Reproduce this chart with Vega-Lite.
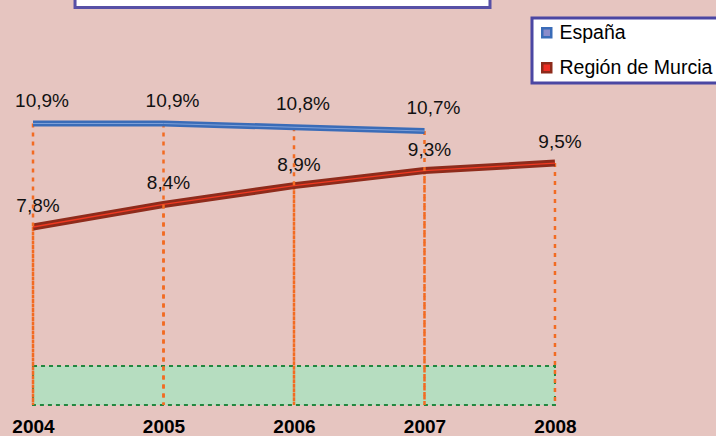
{
  "$schema": "https://vega.github.io/schema/vega-lite/v6.json",
  "width": 716,
  "height": 405,
  "autosize": {"type": "none"},
  "padding": {"left": 0, "top": 0, "right": 0, "bottom": 31},
  "background": "#E6C5C0",
  "config": {
    "view": {"stroke": null},
    "font": "Liberation Sans"
  },
  "data": {
    "values": [
      {"year": 2004, "serie": "España", "value": 10.9, "label": "10,9%"},
      {"year": 2005, "serie": "España", "value": 10.9, "label": "10,9%"},
      {"year": 2006, "serie": "España", "value": 10.8, "label": "10,8%"},
      {"year": 2007, "serie": "España", "value": 10.7, "label": "10,7%"},
      {"year": 2004, "serie": "Región de Murcia", "value": 7.8, "label": "7,8%"},
      {"year": 2005, "serie": "Región de Murcia", "value": 8.4, "label": "8,4%"},
      {"year": 2006, "serie": "Región de Murcia", "value": 8.9, "label": "8,9%"},
      {"year": 2007, "serie": "Región de Murcia", "value": 9.3, "label": "9,3%"},
      {"year": 2008, "serie": "Región de Murcia", "value": 9.5, "label": "9,5%"}
    ]
  },
  "encoding": {
    "x": {
      "field": "year",
      "type": "quantitative",
      "scale": {"domain": [2003.747, 2009.234], "nice": false, "zero": false},
      "axis": {
        "values": [2004, 2005, 2006, 2007, 2008],
        "format": "d",
        "title": null,
        "domain": false,
        "ticks": false,
        "grid": false,
        "labelFont": "Liberation Sans",
        "labelFontSize": 19,
        "labelFontWeight": "bold",
        "labelColor": "#000000",
        "labelPadding": 12
      }
    }
  },
  "layer": [
    {
      "transform": [{"filter": "datum.serie == 'Región de Murcia'"}],
      "encoding": {
        "y": {
          "field": "value",
          "type": "quantitative",
          "scale": {"domain": [3.066, 13.837], "nice": false, "zero": false},
          "axis": null
        }
      },
      "layer": [
        {
          "transform": [{"filter": "datum.year == 2004"}],
          "mark": {"type": "rect", "fill": "#FFFFFF", "stroke": "#5750A6", "strokeWidth": 3},
          "encoding": {
            "x": {"datum": 2004.322},
            "x2": {"datum": 2007.502},
            "y": {"datum": 13.638},
            "y2": {"datum": 15}
          }
        },
        {
          "transform": [{"filter": "datum.year == 2004"}],
          "mark": {"type": "rect", "fill": "#B6DDC0", "stroke": "#22873F", "strokeWidth": 2, "strokeDash": [4, 4]},
          "encoding": {
            "x": {"datum": 2004},
            "x2": {"datum": 2008},
            "y": {"datum": 4.103},
            "y2": {"datum": 3.066}
          }
        },
        {
          "mark": {"type": "rule", "stroke": "#F26B22", "strokeWidth": 2.5, "strokeDash": [4, 5]},
          "encoding": {"y2": {"datum": 3.066}}
        },
        {
          "mark": {"type": "line", "strokeWidth": 7, "strokeCap": "butt"},
          "encoding": {
            "color": {
              "field": "serie",
              "type": "nominal",
              "scale": {"domain": ["España", "Región de Murcia"], "range": ["#3A6CB8", "#8E2B1B"]},
              "legend": {
                "title": null,
                "orient": "none",
                "legendX": 532,
                "legendY": 18,
                "fillColor": "#FFFFFF",
                "strokeColor": "#4B47A3",
                "padding": 5,
                "symbolOffset": 0,
                "symbolType": "square",
                "symbolSize": 81,
                "labelFont": "Liberation Sans",
                "labelFontSize": 19.5,
                "labelColor": "#000000",
                "labelOffset": 3,
                "rowPadding": 14,
                "labelLimit": 300,
                "encode": {
                  "legend": {"update": {"strokeWidth": {"value": 3}}},
                  "symbols": {
                    "update": {
                      "fill": {"signal": "datum.value == 'España' ? '#8A8CCB' : '#EE2E24'"},
                      "stroke": {"signal": "datum.value == 'España' ? '#3A6CB8' : '#8E2B1B'"},
                      "strokeWidth": {"value": 2.5},
                      "opacity": {"value": 1}
                    }
                  }
                }
              }
            }
          }
        },
        {
          "mark": {"type": "line", "strokeWidth": 1.3, "color": "#F03A22"}
        },
        {
          "mark": {"type": "text", "fontSize": 19, "dx": 5, "dy": -21, "color": "#111111", "font": "Liberation Sans"},
          "encoding": {"text": {"field": "label", "type": "nominal"}}
        }
      ]
    },
    {
      "transform": [{"filter": "datum.serie == 'España'"}],
      "encoding": {
        "y": {
          "field": "value",
          "type": "quantitative",
          "scale": {"domain": [3.413, 14.185], "nice": false, "zero": false},
          "axis": null
        }
      },
      "layer": [
        {
          "mark": {"type": "rule", "stroke": "#F26B22", "strokeWidth": 2.5, "strokeDash": [4, 5]},
          "encoding": {"y2": {"datum": 3.413}}
        },
        {
          "mark": {"type": "line", "strokeWidth": 6, "strokeCap": "butt"},
          "encoding": {
            "color": {
              "field": "serie",
              "type": "nominal",
              "scale": {"domain": ["España", "Región de Murcia"], "range": ["#3A6CB8", "#8E2B1B"]}
            }
          }
        },
        {
          "mark": {"type": "line", "strokeWidth": 1, "color": "#7FA0D8"}
        },
        {
          "mark": {"type": "text", "fontSize": 19, "dx": 9, "dy": -23, "color": "#111111", "font": "Liberation Sans"},
          "encoding": {"text": {"field": "label", "type": "nominal"}}
        }
      ]
    }
  ],
  "resolve": {"scale": {"y": "independent"}}
}
